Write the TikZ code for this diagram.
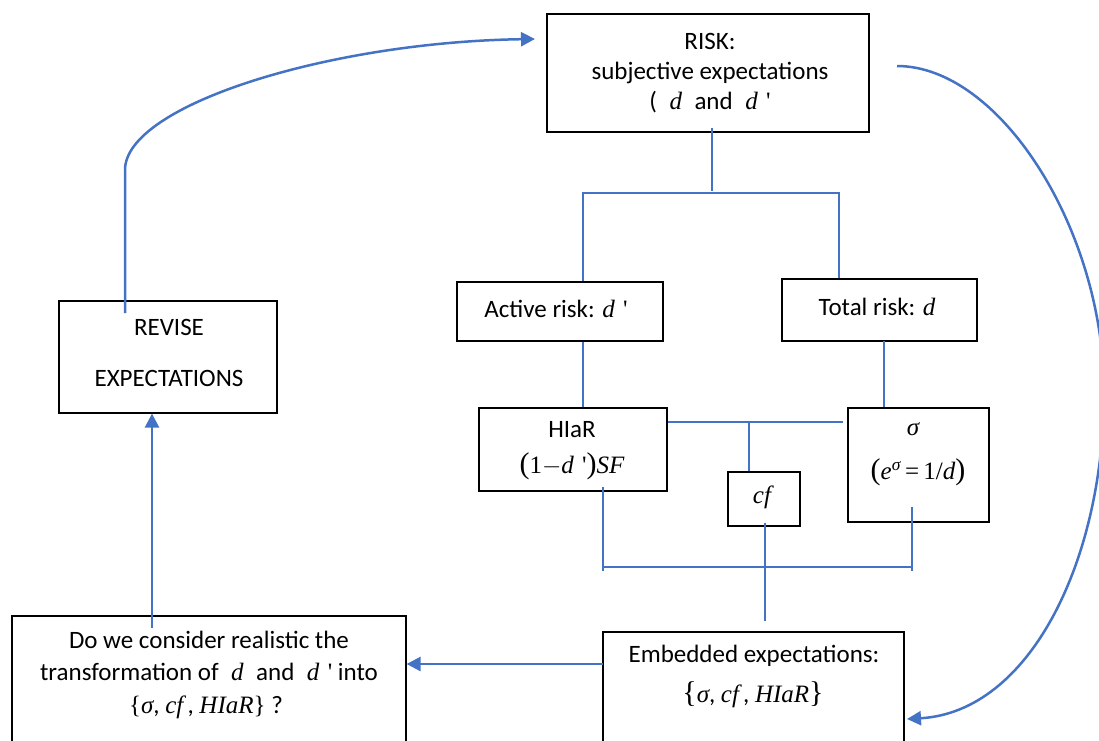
\documentclass[tikz,border=0pt]{standalone}
\usepackage{amsmath}
\usepackage{fontspec}
\setmainfont{Carlito}
\newfontfamily\tms{Liberation Serif}
\usetikzlibrary{arrows.meta,calc}
\definecolor{lineblue}{RGB}{68,114,196}
\newcommand{\mv}[1]{{\tms\itshape #1}}
\newcommand{\pr}{\,\,{\tms\textquotesingle}}
\newcommand{\bd}[1]{{\tms\fontsize{30}{30}\selectfont #1}}
\begin{document}
\begin{tikzpicture}[x=1pt,y=-1pt,
  box/.style={draw=black,line width=1.2pt,inner sep=0pt},
  tree/.style={draw=lineblue,line width=1.3pt},
  flow/.style={draw=lineblue,line width=2.5pt,-{Triangle[length=14pt,width=14pt]}},
  txt/.style={inner sep=0pt,align=center,font=\fontsize{25}{30}\selectfont}]
\fill[white] (0,0) rectangle (1099,740);
\useasboundingbox (0,0) rectangle (1099,740);

% boxes
\node[box,minimum width=322pt,minimum height=118pt] (risk) at (708,73) {};
\node[box,minimum width=206pt,minimum height=59pt] (active) at (560,311.5) {};
\node[box,minimum width=195pt,minimum height=62pt] (total) at (879.5,310) {};
\node[box,minimum width=188pt,minimum height=83pt] (hiar) at (573,449.5) {};
\node[box,minimum width=141pt,minimum height=114pt] (sigma) at (918.5,465) {};
\node[box,minimum width=72pt,minimum height=54pt] (cf) at (764,499) {};
\node[box,minimum width=218pt,minimum height=112pt] (revise) at (168,357) {};
\node[box,minimum width=394pt,minimum height=136pt] (doq) at (209,684) {};
\node[box,minimum width=301pt,minimum height=120pt] (emb) at (753.5,692) {};

% texts
\node[txt] (risktxt) at (710,73) {RISK:\\subjective expectations\\(\enspace\mv{d}\enspace and\enspace\mv{d}\pr};
\node[txt] (activetxt) at (556,309) {Active risk: \mv{d}\pr};
\node[txt] (totaltxt) at (877,307) {Total risk: \mv{d}};
\node[txt] (hiartxt1) at (572,430) {HIaR};
\node[txt] (hiartxt2) at (572,466) {\bd{(}{\tms 1}$-$\mv{d}\pr\bd{)}\mv{SF}};
\node[txt] (sigmatop) at (913,429) {\mv{σ}};
\node[txt] (sigmaeq) at (918,472) {\bd{(}\mv{e}\textsuperscript{\mv{σ}}\,{\tms =}\,{\tms 1/}\mv{d}\bd{)}};
\node[txt] (cftxt) at (762,497) {\mv{cf}};
\node[txt] (revtxt1) at (169,327) {REVISE};
\node[txt] (revtxt2) at (169,378) {EXPECTATIONS};
\node[txt] (doq1) at (209,640) {Do we consider realistic the};
\node[txt] (doq2) at (209,672) {transformation of\enspace\mv{d}\enspace and\enspace\mv{d}\pr{} into};
\node[txt] (doq3) at (206,707) {{\tms\{}\mv{σ}, \mv{cf}\,, \mv{HIaR}{\tms\}} ?};
\node[txt] (embtxt1) at (754,656) {Embedded expectations:};
\node[txt] (embtxt2) at (753,695) {\bd{\{}\mv{σ}, \mv{cf}\,, \mv{HIaR}\bd{\}}};

% tree connectors
\coordinate (tbl) at (583,193);
\coordinate (tbr) at (839,193);
\draw[tree] ([xshift=4pt,yshift=5pt]risk.south) -- ++(0,63);
\draw[tree] (active.north -| tbl) -- (tbl) -- (tbr) -- (total.north -| tbr);
\draw[tree] (active.south -| tbl) -- (hiar.north -| tbl);
\coordinate (ts) at (884,341);
\draw[tree] (ts) -- (ts |- sigma.north);
\coordinate (hc) at (749,422);
\coordinate (hs) at (843,422);
\draw[tree] (hiar.east |- hc) -- (hs);
\draw[tree] (hc) -- (hc |- cf.north);
\coordinate (hb) at (603,487);
\coordinate (bl) at (603,567);
\coordinate (br) at (912,567);
\coordinate (sb) at (912,507);
\draw[tree] (hb) -- ++(0,84);
\draw[tree] (sb) -- ++(0,64);
\draw[tree] (bl) -- (br);
\draw[tree] ([xshift=1pt,yshift=4pt]cf.south) -- ++(0,98);

% flow arrows
\coordinate (ea) at (603,664);
\draw[flow] (ea) -- (ea -| doq.east);
\coordinate (dqa) at (152,628);
\draw[flow] (dqa) -- (dqa |- revise.south);
\coordinate (rvs) at (125,313);
\coordinate (riskin) at (535,39);
\draw[flow] (rvs) -- (125,170) .. controls (125,105) and (330,42) .. (riskin);
\coordinate (rs) at (897,66);
\coordinate (re) at (907,719);
\draw[flow] (rs) .. controls (1000,66) and (1104,230) .. (1104,392)
  .. controls (1104,560) and (1030,712) .. (re);
\end{tikzpicture}
\end{document}
